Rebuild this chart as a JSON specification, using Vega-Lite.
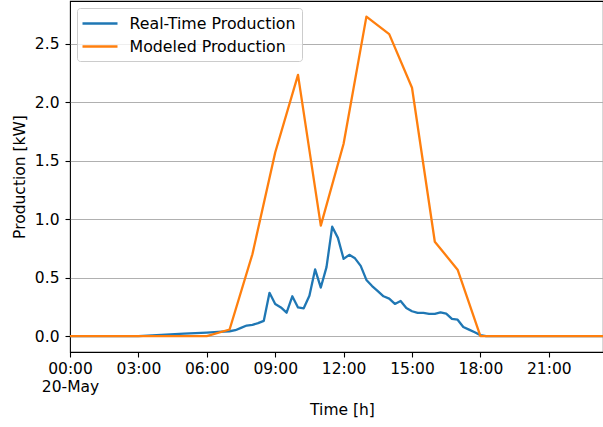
{
  "$schema": "https://vega.github.io/schema/vega-lite/v6.json",
  "width": 533,
  "height": 351,
  "autosize": "none",
  "padding": {"left": 70, "top": 1, "right": 0, "bottom": 75},
  "background": "white",
  "config": {
    "font": "DejaVu Sans",
    "view": {"stroke": "black", "strokeWidth": 1.1},
    "axis": {
      "labelFont": "DejaVu Sans",
      "titleFont": "DejaVu Sans",
      "labelFontSize": 15.5,
      "titleFontSize": 15.5,
      "titleFontWeight": "normal",
      "labelColor": "black",
      "titleColor": "black",
      "tickColor": "black",
      "tickWidth": 1.1,
      "tickSize": 5,
      "domain": false
    },
    "legend": {
      "labelFont": "DejaVu Sans"
    }
  },
  "data": {
    "values": [
      {"time": "2024-05-20T00:00:00", "series": "Real-Time Production", "value": 0},
      {"time": "2024-05-20T01:00:00", "series": "Real-Time Production", "value": 0},
      {"time": "2024-05-20T02:00:00", "series": "Real-Time Production", "value": 0},
      {"time": "2024-05-20T03:00:00", "series": "Real-Time Production", "value": 0},
      {"time": "2024-05-20T04:00:00", "series": "Real-Time Production", "value": 0.01},
      {"time": "2024-05-20T05:00:00", "series": "Real-Time Production", "value": 0.02},
      {"time": "2024-05-20T06:00:00", "series": "Real-Time Production", "value": 0.03},
      {"time": "2024-05-20T06:30:00", "series": "Real-Time Production", "value": 0.035},
      {"time": "2024-05-20T07:00:00", "series": "Real-Time Production", "value": 0.041},
      {"time": "2024-05-20T07:15:00", "series": "Real-Time Production", "value": 0.05},
      {"time": "2024-05-20T07:30:00", "series": "Real-Time Production", "value": 0.07},
      {"time": "2024-05-20T07:45:00", "series": "Real-Time Production", "value": 0.09},
      {"time": "2024-05-20T08:00:00", "series": "Real-Time Production", "value": 0.096},
      {"time": "2024-05-20T08:15:00", "series": "Real-Time Production", "value": 0.11},
      {"time": "2024-05-20T08:30:00", "series": "Real-Time Production", "value": 0.13},
      {"time": "2024-05-20T08:45:00", "series": "Real-Time Production", "value": 0.37},
      {"time": "2024-05-20T09:00:00", "series": "Real-Time Production", "value": 0.275},
      {"time": "2024-05-20T09:15:00", "series": "Real-Time Production", "value": 0.245},
      {"time": "2024-05-20T09:30:00", "series": "Real-Time Production", "value": 0.2},
      {"time": "2024-05-20T09:45:00", "series": "Real-Time Production", "value": 0.34},
      {"time": "2024-05-20T10:00:00", "series": "Real-Time Production", "value": 0.245},
      {"time": "2024-05-20T10:15:00", "series": "Real-Time Production", "value": 0.237},
      {"time": "2024-05-20T10:30:00", "series": "Real-Time Production", "value": 0.345},
      {"time": "2024-05-20T10:45:00", "series": "Real-Time Production", "value": 0.57},
      {"time": "2024-05-20T11:00:00", "series": "Real-Time Production", "value": 0.415},
      {"time": "2024-05-20T11:15:00", "series": "Real-Time Production", "value": 0.59},
      {"time": "2024-05-20T11:30:00", "series": "Real-Time Production", "value": 0.935},
      {"time": "2024-05-20T11:45:00", "series": "Real-Time Production", "value": 0.84},
      {"time": "2024-05-20T12:00:00", "series": "Real-Time Production", "value": 0.66},
      {"time": "2024-05-20T12:15:00", "series": "Real-Time Production", "value": 0.695},
      {"time": "2024-05-20T12:30:00", "series": "Real-Time Production", "value": 0.665},
      {"time": "2024-05-20T12:45:00", "series": "Real-Time Production", "value": 0.6},
      {"time": "2024-05-20T13:00:00", "series": "Real-Time Production", "value": 0.48},
      {"time": "2024-05-20T13:15:00", "series": "Real-Time Production", "value": 0.428},
      {"time": "2024-05-20T13:30:00", "series": "Real-Time Production", "value": 0.385},
      {"time": "2024-05-20T13:45:00", "series": "Real-Time Production", "value": 0.34},
      {"time": "2024-05-20T14:00:00", "series": "Real-Time Production", "value": 0.32},
      {"time": "2024-05-20T14:15:00", "series": "Real-Time Production", "value": 0.275},
      {"time": "2024-05-20T14:30:00", "series": "Real-Time Production", "value": 0.3},
      {"time": "2024-05-20T14:45:00", "series": "Real-Time Production", "value": 0.24},
      {"time": "2024-05-20T15:00:00", "series": "Real-Time Production", "value": 0.212},
      {"time": "2024-05-20T15:15:00", "series": "Real-Time Production", "value": 0.198},
      {"time": "2024-05-20T15:30:00", "series": "Real-Time Production", "value": 0.198},
      {"time": "2024-05-20T15:45:00", "series": "Real-Time Production", "value": 0.19},
      {"time": "2024-05-20T16:00:00", "series": "Real-Time Production", "value": 0.19},
      {"time": "2024-05-20T16:15:00", "series": "Real-Time Production", "value": 0.203},
      {"time": "2024-05-20T16:30:00", "series": "Real-Time Production", "value": 0.192},
      {"time": "2024-05-20T16:45:00", "series": "Real-Time Production", "value": 0.147},
      {"time": "2024-05-20T17:00:00", "series": "Real-Time Production", "value": 0.14},
      {"time": "2024-05-20T17:15:00", "series": "Real-Time Production", "value": 0.078},
      {"time": "2024-05-20T17:30:00", "series": "Real-Time Production", "value": 0.055},
      {"time": "2024-05-20T17:45:00", "series": "Real-Time Production", "value": 0.032},
      {"time": "2024-05-20T18:00:00", "series": "Real-Time Production", "value": 0.008},
      {"time": "2024-05-20T18:15:00", "series": "Real-Time Production", "value": 0},
      {"time": "2024-05-20T21:00:00", "series": "Real-Time Production", "value": 0},
      {"time": "2024-05-20T23:45:00", "series": "Real-Time Production", "value": 0},
      {"time": "2024-05-20T00:00:00", "series": "Modeled Production", "value": 0},
      {"time": "2024-05-20T01:00:00", "series": "Modeled Production", "value": 0},
      {"time": "2024-05-20T02:00:00", "series": "Modeled Production", "value": 0},
      {"time": "2024-05-20T03:00:00", "series": "Modeled Production", "value": 0},
      {"time": "2024-05-20T04:00:00", "series": "Modeled Production", "value": 0},
      {"time": "2024-05-20T05:00:00", "series": "Modeled Production", "value": 0},
      {"time": "2024-05-20T06:00:00", "series": "Modeled Production", "value": 0},
      {"time": "2024-05-20T07:00:00", "series": "Modeled Production", "value": 0.056},
      {"time": "2024-05-20T08:00:00", "series": "Modeled Production", "value": 0.7},
      {"time": "2024-05-20T09:00:00", "series": "Modeled Production", "value": 1.57},
      {"time": "2024-05-20T10:00:00", "series": "Modeled Production", "value": 2.235},
      {"time": "2024-05-20T11:00:00", "series": "Modeled Production", "value": 0.945},
      {"time": "2024-05-20T12:00:00", "series": "Modeled Production", "value": 1.645},
      {"time": "2024-05-20T13:00:00", "series": "Modeled Production", "value": 2.733},
      {"time": "2024-05-20T14:00:00", "series": "Modeled Production", "value": 2.583},
      {"time": "2024-05-20T15:00:00", "series": "Modeled Production", "value": 2.124},
      {"time": "2024-05-20T16:00:00", "series": "Modeled Production", "value": 0.807},
      {"time": "2024-05-20T17:00:00", "series": "Modeled Production", "value": 0.568},
      {"time": "2024-05-20T18:00:00", "series": "Modeled Production", "value": 0},
      {"time": "2024-05-20T19:00:00", "series": "Modeled Production", "value": 0},
      {"time": "2024-05-20T20:00:00", "series": "Modeled Production", "value": 0},
      {"time": "2024-05-20T21:00:00", "series": "Modeled Production", "value": 0},
      {"time": "2024-05-20T22:00:00", "series": "Modeled Production", "value": 0},
      {"time": "2024-05-20T23:00:00", "series": "Modeled Production", "value": 0},
      {"time": "2024-05-20T23:45:00", "series": "Modeled Production", "value": 0}
    ]
  },
  "mark": {"type": "line", "strokeWidth": 2.3, "clip": true, "strokeJoin": "round"},
  "encoding": {
    "x": {
      "field": "time",
      "type": "temporal",
      "scale": {
        "domain": [
          {"year": 2024, "month": 5, "date": 20, "hours": 0, "minutes": 0},
          {"year": 2024, "month": 5, "date": 20, "hours": 23, "minutes": 22, "seconds": 36}
        ],
        "nice": false
      },
      "axis": {
        "title": "Time [h]",
        "titleX": 272,
        "titlePadding": 8,
        "grid": false,
        "labelPadding": 4,
        "labelLineHeight": 18,
        "labelFlush": false,
        "labelOverlap": false,
        "values": [
          {"year": 2024, "month": 5, "date": 20, "hours": 0},
          {"year": 2024, "month": 5, "date": 20, "hours": 3},
          {"year": 2024, "month": 5, "date": 20, "hours": 6},
          {"year": 2024, "month": 5, "date": 20, "hours": 9},
          {"year": 2024, "month": 5, "date": 20, "hours": 12},
          {"year": 2024, "month": 5, "date": 20, "hours": 15},
          {"year": 2024, "month": 5, "date": 20, "hours": 18},
          {"year": 2024, "month": 5, "date": 20, "hours": 21}
        ],
        "labelExpr": "hours(datum.value) == 0 ? ['00:00', '20-May'] : timeFormat(datum.value, '%H:%M')"
      }
    },
    "y": {
      "field": "value",
      "type": "quantitative",
      "scale": {"domain": [-0.1365, 2.8665], "nice": false, "zero": false},
      "axis": {
        "title": "Production [kW]",
        "values": [0, 0.5, 1, 1.5, 2, 2.5],
        "format": ".1f",
        "grid": true,
        "gridColor": "#b0b0b0",
        "gridWidth": 1.2,
        "labelPadding": 6,
        "titlePadding": 7
      }
    },
    "color": {
      "field": "series",
      "type": "nominal",
      "scale": {
        "domain": ["Real-Time Production", "Modeled Production"],
        "range": ["#1f77b4", "#ff7f0e"]
      },
      "legend": {
        "title": null,
        "orient": "top-left",
        "offset": 7,
        "fillColor": "rgba(255,255,255,0.8)",
        "strokeColor": "#cccccc",
        "cornerRadius": 3,
        "padding": 6,
        "symbolType": "M-2.1875,0H2.1875",
        "symbolSize": 256,
        "symbolOffset": 7.5,
        "symbolStrokeWidth": 2.3,
        "labelFontSize": 15.8,
        "labelColor": "black",
        "labelOffset": 20,
        "rowPadding": 5,
        "labelLimit": 300
      }
    }
  }
}
